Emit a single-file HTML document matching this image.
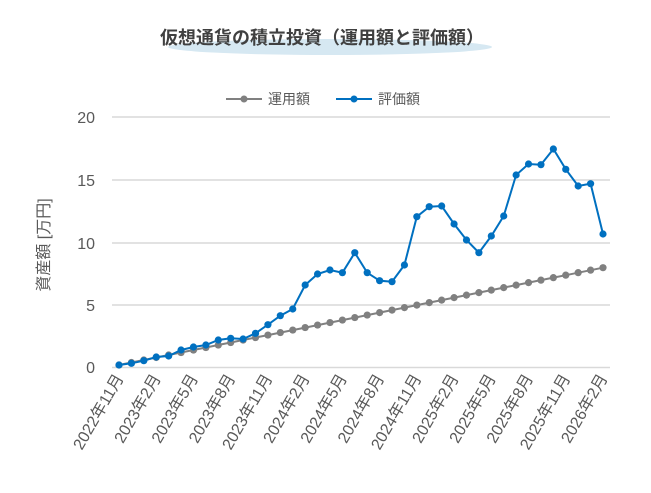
<!DOCTYPE html>
<html><head><meta charset="utf-8"><style>
body{margin:0;background:#fff;}
svg{display:block;font-family:"Liberation Sans","Noto Sans CJK JP",sans-serif;}
</style></head><body>
<svg width="651" height="493" viewBox="0 0 651 493" xmlns="http://www.w3.org/2000/svg">
<rect width="651" height="493" fill="#fff"/>
<ellipse cx="330" cy="47" rx="162" ry="8" fill="#d6e8f2"/>
<text x="322" y="44" text-anchor="middle" font-size="18" font-weight="bold" fill="#404040">仮想通貨の積立投資（運用額と評価額）</text>
<g stroke="#d9d9d9" stroke-width="1.5">
<line x1="112" y1="117" x2="610" y2="117"/>
<line x1="112" y1="180" x2="610" y2="180"/>
<line x1="112" y1="243" x2="610" y2="243"/>
<line x1="112" y1="305" x2="610" y2="305"/>
<line x1="112" y1="367.5" x2="610" y2="367.5"/>
</g>
<g font-size="16" fill="#595959" text-anchor="end">
<text x="95" y="123">20</text>
<text x="95" y="186">15</text>
<text x="95" y="249">10</text>
<text x="95" y="311">5</text>
<text x="95" y="373">0</text>
</g>
<text transform="translate(49,245) rotate(-90)" text-anchor="middle" font-size="16" fill="#595959">資産額 [万円]</text>
<g font-size="14" fill="#595959">
<line x1="226" y1="99" x2="262" y2="99" stroke="#808080" stroke-width="2"/><circle cx="244" cy="99" r="3.5" fill="#808080"/>
<text x="268" y="104">運用額</text>
<line x1="336" y1="99" x2="372" y2="99" stroke="#0070c0" stroke-width="2"/><circle cx="354" cy="99" r="3.5" fill="#0070c0"/>
<text x="378" y="104">評価額</text>
</g>
<g id="series"></g>
<g id="xl" font-size="16" fill="#595959" text-anchor="end"></g>
</svg>
<script>
var blue=[705,700,692,681,678,660,651,645,630,625,627,610,584,557,537,465,432,420,428,368,428,452,455,405,260,230,228,282,330,368,318,258,135,102,104,57,118,168,161,312];
var ns="http://www.w3.org/2000/svg",g=document.getElementById('series');
function X(i){return 119+i*(484/39);}
function draw(ys,c){var p="";ys.forEach(function(y,i){p+=(i?"L":"M")+X(i).toFixed(1)+" "+y.toFixed(1);});
var pa=document.createElementNS(ns,"path");pa.setAttribute("d",p);pa.setAttribute("fill","none");pa.setAttribute("stroke",c);pa.setAttribute("stroke-width","2");g.appendChild(pa);
ys.forEach(function(y,i){var ci=document.createElementNS(ns,"circle");ci.setAttribute("cx",X(i));ci.setAttribute("cy",y);ci.setAttribute("r","3.6");ci.setAttribute("fill",c);g.appendChild(ci);});}
var gray=[];for(var i=0;i<40;i++)gray.push(130+(705-(705-413)*i/39)/3);
draw(gray,"#808080");
draw(blue.map(function(v){return 130+v/3;}),"#0070c0");
var xl=document.getElementById('xl');
for(var k=0;k<14;k++){var m=(10+k*3)%12+1,yr=2022+Math.floor((10+k*3)/12);
var t=document.createElementNS(ns,"text");var x=X(k*3)+5;
t.setAttribute("transform","translate("+x+",378) rotate(-60)");t.textContent=yr+"年"+m+"月";xl.appendChild(t);}
</script>
</body></html>
